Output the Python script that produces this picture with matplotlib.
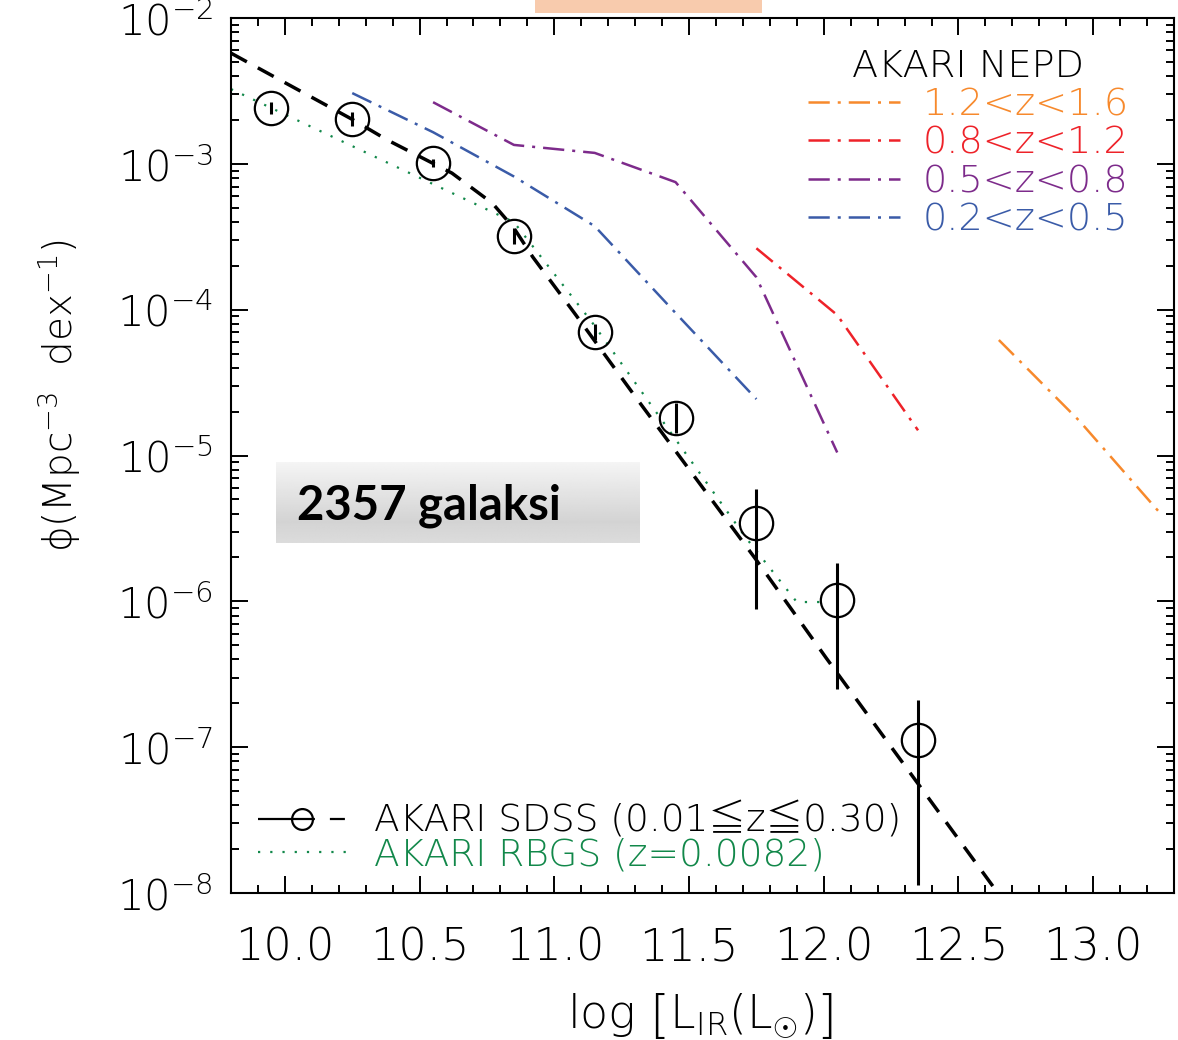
import matplotlib as mpl
import matplotlib.pyplot as plt
import numpy as np
from matplotlib.legend_handler import HandlerLine2D
from matplotlib.lines import Line2D
from matplotlib.patches import Rectangle
from matplotlib.ticker import MultipleLocator, FormatStrFormatter, LogLocator

mpl.rcParams.update({
    "font.family": ["DejaVu Sans", "Noto Sans CJK JP"],
    "font.weight": "light",
    "axes.labelweight": "light",
    "mathtext.fontset": "custom",
    "mathtext.rm": "DejaVu Sans:light",
    "mathtext.it": "DejaVu Sans:italic:light",
    "mathtext.bf": "DejaVu Sans:bold",
    "axes.linewidth": 1.5,
})

ORANGE = "#F7892C"
RED = "#EE2229"
PURPLE = "#7D2B8B"
BLUE = "#3A5BA8"
GREEN = "#12884A"

# AKARI-SDSS binned IR luminosity function (0.01 <= z <= 0.30)
sdss_logl = [9.95, 10.25, 10.55, 10.85, 11.15, 11.45, 11.75, 12.05, 12.35]
sdss_phi = [2.41e-3, 2.03e-3, 1.01e-3, 3.2e-4, 7.0e-5, 1.81e-5, 3.44e-6, 1.03e-6, 1.12e-7]
sdss_lo = [2.20e-3, 1.82e-3, 9.5e-4, 2.82e-4, 6.2e-5, 1.43e-5, 8.9e-7, 2.5e-7, 1.13e-8]
sdss_hi = [2.65e-3, 2.26e-3, 1.08e-3, 3.63e-4, 7.96e-5, 2.29e-5, 5.9e-6, 1.83e-6, 2.1e-7]

# double power-law fit to the SDSS points
fit_logl = [9.80, 10.00, 10.25, 10.38, 10.62, 10.77, 10.85, 10.92, 11.08, 11.31, 11.75, 12.01, 12.63, 12.66]
fit_phi = [5.75e-3, 3.61e-3, 2.02e-3, 1.46e-3, 8.65e-4, 5.38e-4, 3.63e-4, 2.30e-4,
           9.2e-5, 2.40e-5, 1.92e-6, 4.07e-7, 1.10e-8, 9.1e-9]

# AKARI RBGS local LF (z = 0.0082)
rbgs_logl = [9.80, 10.85, 11.14, 11.71, 11.90, 11.99]
rbgs_phi = [3.26e-3, 3.99e-4, 8.2e-5, 2.75e-6, 9.9e-7, 9.9e-7]

# AKARI NEP-Deep LFs per redshift slice
nepd_labels = ["1.2<z<1.6", "0.8<z<1.2", "0.5<z<0.8", "0.2<z<0.5"]
nepd_colors = [ORANGE, RED, PURPLE, BLUE]
nepd_logl = [
    [12.65, 12.95, 13.25],
    [11.75, 12.05, 12.35],
    [10.55, 10.85, 11.15, 11.45, 11.75, 12.05],
    [10.25, 10.55, 10.85, 11.15, 11.45, 11.75],
]
nepd_phi = [
    [6.2e-5, 1.72e-5, 4.0e-6],
    [2.64e-4, 9.2e-5, 1.49e-5],
    [2.65e-3, 1.35e-3, 1.19e-3, 7.5e-4, 1.67e-4, 1.05e-5],
    [3.06e-3, 1.65e-3, 8.2e-4, 3.74e-4, 9.5e-5, 2.44e-5],
]

DASHDOT = (8.5, 3.2, 1.2, 3.2)
DASH = (5.2, 3.6)
DOT = (1, 4.5)


class LeftMarkerHandler(HandlerLine2D):
    """Put the single legend marker near the left end of the sample line."""

    def get_xdata(self, legend, xdescent, ydescent, width, height, fontsize):
        xdata, _ = super().get_xdata(legend, xdescent, ydescent, width, height, fontsize)
        return xdata, np.array([-xdescent + 0.3 * width])


fig = plt.figure(figsize=(11.78, 10.40), dpi=100)
ax = fig.add_axes([0.1961, 0.1413, 0.8005, 0.8413])

for xs, ys, c in zip(nepd_logl, nepd_phi, nepd_colors):
    ax.plot(xs, ys, color=c, lw=1.8, dashes=DASHDOT)

ax.plot(rbgs_logl, rbgs_phi, color=GREEN, lw=1.6, dashes=DOT)
ax.plot(fit_logl, fit_phi, color="k", lw=2.5, dashes=DASH)
ax.vlines(sdss_logl, sdss_lo, sdss_hi, color="k", lw=2.2)
ax.plot(sdss_logl, sdss_phi, "o", ms=24, mfc="none", mec="k", mew=1.6)

ax.set_yscale("log")
ax.set_xlim(9.8, 13.3)
ax.set_ylim(1e-8, 1e-2)

ax.xaxis.set_major_locator(MultipleLocator(0.5))
ax.xaxis.set_minor_locator(MultipleLocator(0.1))
ax.xaxis.set_major_formatter(FormatStrFormatter("%.1f"))
ax.yaxis.set_major_locator(LogLocator(base=10, numticks=20))
ax.yaxis.set_minor_locator(LogLocator(base=10, subs=np.arange(2, 10), numticks=100))
ax.tick_params(which="both", direction="in", top=True, right=True, width=1.4)
ax.tick_params(which="major", length=12)
ax.tick_params(which="minor", length=6)
ax.tick_params(axis="x", pad=24, labelsize=32)
ax.tick_params(axis="y", pad=13, labelsize=30)

ax.set_xlabel(r"log $\left[\mathrm{L_{IR}(L_{\odot})}\right]$", fontsize=33)
ax.xaxis.set_label_coords(0.497, -0.112)
ax.set_ylabel(r"$\mathrm{\phi}$(Mpc$^{-3}$  dex$^{-1}$)", fontsize=28)
ax.yaxis.set_label_coords(-0.157, 0.569)

nepd_handles = [Line2D([], [], color=c, lw=1.8, dashes=DASHDOT) for c in nepd_colors]
leg1 = ax.legend(nepd_handles, nepd_labels, loc="upper right", bbox_to_anchor=(0.952, 0.965),
                 title="AKARI NEPD", fontsize=27.5, title_fontsize=27.5, frameon=False,
                 handlelength=2.4, handletextpad=0.6, labelspacing=0.09,
                 labelcolor=nepd_colors, borderpad=0, borderaxespad=0)
ax.add_artist(leg1)

sdss_handle = Line2D([], [], color="k", lw=1.6, dashes=(25.6, 6.75, 6.75, 6.75),
                     marker="o", ms=15, mfc="none", mec="k", mew=1.6)
rbgs_handle = Line2D([], [], color=GREEN, lw=1.6, dashes=DOT)
local_labels = ["AKARI SDSS (0.01\u2266z\u22660.30)", "AKARI RBGS (z=0.0082)"]
ax.legend([sdss_handle, rbgs_handle], local_labels, loc="lower left",
          bbox_to_anchor=(0.0286, 0.024), fontsize=27, frameon=False,
          handlelength=2.35, handletextpad=0.75, labelspacing=-0.05,
          labelcolor=["k", GREEN], borderpad=0, borderaxespad=0,
          handler_map={sdss_handle: LeftMarkerHandler(numpoints=1)})

# sample-size box with a soft grey gradient
box = fig.add_axes([276 / 1178, 1 - 543 / 1040, 363 / 1178, 81 / 1040])
grad = np.concatenate([np.linspace(0.96, 0.83, 60), np.linspace(0.83, 0.86, 21)])
box.imshow(np.repeat(grad[:, None], 2, axis=1), cmap="gray", vmin=0, vmax=1,
           aspect="auto", extent=[0, 1, 0, 1], interpolation="bilinear")
box.set_axis_off()
fig.text(297 / 1178, 1 - 520 / 1040, "2357 galaksi", fontsize=34, fontweight="bold",
         family=["Lato", "DejaVu Sans"], ha="left", va="baseline")

fig.add_artist(Rectangle((535 / 1178, 1 - 13 / 1040), 227 / 1178, 13 / 1040,
                         transform=fig.transFigure, color="#F8CBAD", lw=0))

fig.savefig("out.png", dpi=100)
